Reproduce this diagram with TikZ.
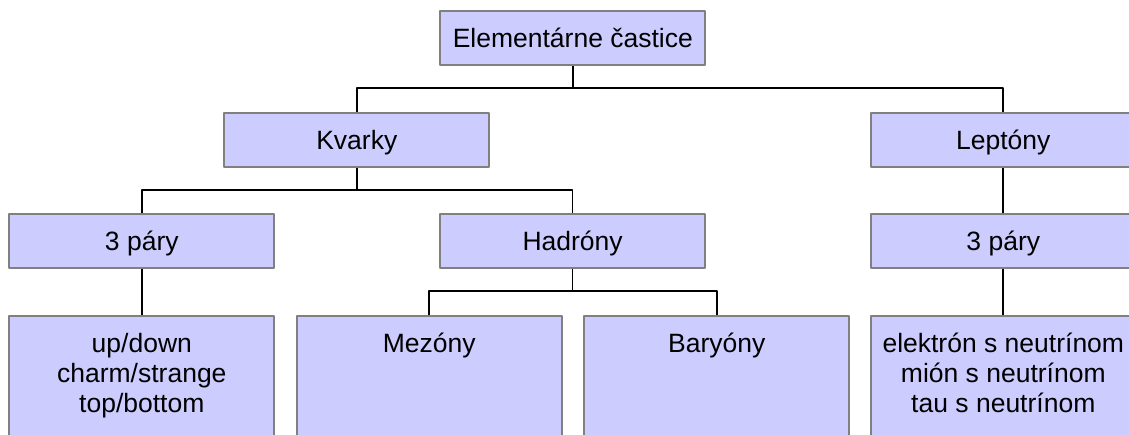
\documentclass[tikz,border=0pt]{standalone}
\usepackage{fontspec}
\setmainfont{Liberation Sans}
\definecolor{boxfill}{HTML}{CCCCFF}
\definecolor{boxline}{HTML}{808080}
\newcommand{\leaftext}[1]{\parbox[t][62pt][t]{132.5pt}{\centering\strut#1}}
\begin{document}
\begin{tikzpicture}[x=0.5pt,y=-0.5pt, font=\fontsize{13.25}{14.8}\selectfont, line join=round,
	box/.style={draw=boxline, fill=boxfill, line width=0.9pt, minimum width=132.5pt, minimum height=27pt, text height=9.5pt, text depth=0pt, inner sep=0pt},
	leaf/.style={draw=boxline, fill=boxfill, line width=0.9pt, inner xsep=0pt, inner ysep=8.1pt, anchor=north},
	link/.style={line width=0.85pt}]
	\useasboundingbox (0,0) rectangle (1129,434);
	\clip (0,0) rectangle (1129,434);
	% boxes
	\node[box] (root) at (572.8,38.3) {Elementárne častice};
	\node[box] (kvarky) at (356.8,139.7) {Kvarky};
	\node[box] (leptony) at (1003.3,139.7) {Leptóny};
	\node[box] (paryq) at (141.8,240.7) {3 páry};
	\node[box] (hadrony) at (572.6,240.7) {Hadróny};
	\node[box] (paryl) at (1003.3,240.7) {3 páry};
	\node[leaf] (kvarkpary) at (141.8,315) {\leaftext{up/down\\charm/strange\\top/bottom}};
	\node[leaf] (mezony) at (429.2,315) {\leaftext{Mezóny}};
	\node[leaf] (baryony) at (716.8,315) {\leaftext{Baryóny}};
	\node[leaf] (leptpary) at (1003.3,315) {\leaftext{elektrón s neutrínom\\mión s neutrínom\\tau s neutrínom}};
	% connectors
	\coordinate (j1) at (572.8,88.3);
	\coordinate (j2) at (356.8,190);
	\coordinate (j3) at (572.6,290.7);
	\draw[link] (root.south) -- (j1);
	\draw[link] (kvarky.north) |- (j1) -| (leptony.north);
	\draw[link] (kvarky.south) -- (j2);
	\draw[link] (paryq.north) |- (j2) -| (hadrony.north);
	\draw[link] (leptony) -- (paryl);
	\draw[link] (paryq) -- (kvarkpary);
	\draw[link] (hadrony.south) -- (j3);
	\draw[link] (mezony.north) |- (j3) -| (baryony.north);
	\draw[link] (paryl) -- (leptpary);
\end{tikzpicture}
\end{document}
